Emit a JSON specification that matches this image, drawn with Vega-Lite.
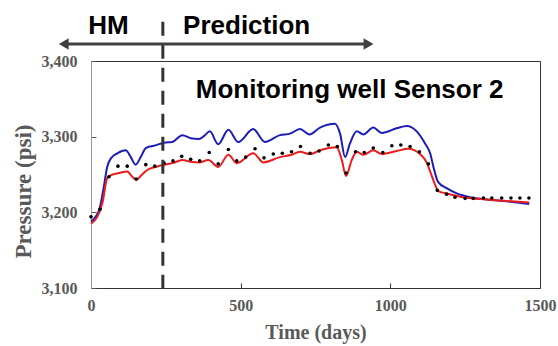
{
 "$schema": "https://vega.github.io/schema/vega-lite/v6.json",
 "width": 449,
 "height": 227,
 "autosize": {"type": "none"},
 "padding": {"left": 91, "top": 61, "right": 18, "bottom": 58},
 "background": "white",
 "config": {"view": {"stroke": "#333333", "strokeWidth": 1}, "axis": {"grid": false}},
 "datasets": {
  "blue": [
   {"day":0,"p":3188},{"day":27,"p":3203},{"day":43,"p":3234},{"day":54,"p":3260},{"day":66,"p":3271},{"day":88,"p":3278},{"day":116,"p":3282},{"day":133,"p":3273},{"day":149,"p":3263},{"day":166,"p":3273},{"day":183,"p":3285},{"day":210,"p":3288},{"day":244,"p":3292},{"day":272,"p":3293},{"day":305,"p":3302},{"day":333,"p":3298},{"day":361,"p":3297},{"day":378,"p":3301},{"day":397,"p":3307},{"day":425,"p":3290},{"day":459,"p":3309},{"day":492,"p":3293},{"day":542,"p":3310},{"day":581,"p":3293},{"day":631,"p":3302},{"day":665,"p":3304},{"day":698,"p":3310},{"day":730,"p":3303},{"day":765,"p":3312},{"day":815,"p":3317},{"day":832,"p":3304},{"day":849,"p":3273},{"day":865,"p":3291},{"day":888,"p":3307},{"day":910,"p":3303},{"day":943,"p":3312},{"day":971,"p":3305},{"day":1021,"p":3311},{"day":1055,"p":3314},{"day":1088,"p":3307},{"day":1116,"p":3291},{"day":1133,"p":3278},{"day":1144,"p":3260},{"day":1160,"p":3240},{"day":1188,"p":3232},{"day":1222,"p":3225},{"day":1266,"p":3220},{"day":1322,"p":3217},{"day":1389,"p":3214.5},{"day":1464,"p":3211}
  ],
  "red": [
   {"day":0,"p":3185},{"day":21,"p":3194},{"day":38,"p":3212},{"day":54,"p":3245},{"day":66,"p":3249},{"day":94,"p":3252},{"day":121,"p":3254},{"day":138,"p":3247},{"day":152,"p":3243},{"day":168,"p":3249},{"day":188,"p":3256},{"day":216,"p":3260},{"day":244,"p":3263},{"day":272,"p":3265},{"day":305,"p":3269},{"day":333,"p":3267},{"day":361,"p":3266},{"day":392,"p":3269},{"day":425,"p":3260},{"day":459,"p":3276},{"day":487,"p":3265},{"day":542,"p":3278},{"day":576,"p":3266},{"day":631,"p":3273},{"day":670,"p":3276},{"day":698,"p":3280},{"day":732,"p":3277},{"day":765,"p":3282},{"day":821,"p":3286},{"day":838,"p":3269},{"day":852,"p":3248},{"day":871,"p":3269},{"day":888,"p":3280},{"day":910,"p":3276},{"day":943,"p":3282},{"day":971,"p":3277},{"day":1021,"p":3281},{"day":1060,"p":3284},{"day":1099,"p":3277},{"day":1121,"p":3266},{"day":1135,"p":3252},{"day":1150,"p":3236},{"day":1160,"p":3228},{"day":1188,"p":3225},{"day":1244,"p":3220},{"day":1322,"p":3217},{"day":1389,"p":3215},{"day":1464,"p":3213}
  ],
  "obs": [
   {"day":0,"p":3194},{"day":30,"p":3204},{"day":60,"p":3247},{"day":90,"p":3261},{"day":121,"p":3261},{"day":151,"p":3244},{"day":183,"p":3263},{"day":213,"p":3261},{"day":244,"p":3265},{"day":274,"p":3268},{"day":303,"p":3274},{"day":333,"p":3270},{"day":363,"p":3268},{"day":395,"p":3279},{"day":425,"p":3264},{"day":459,"p":3283},{"day":487,"p":3268},{"day":517,"p":3273},{"day":548,"p":3284},{"day":578,"p":3272},{"day":609,"p":3277},{"day":639,"p":3278},{"day":670,"p":3280},{"day":700,"p":3287},{"day":732,"p":3278},{"day":762,"p":3281},{"day":793,"p":3289},{"day":823,"p":3287},{"day":852,"p":3252},{"day":884,"p":3280},{"day":913,"p":3279},{"day":943,"p":3285},{"day":975,"p":3279},{"day":1005,"p":3288},{"day":1035,"p":3289},{"day":1066,"p":3287},{"day":1097,"p":3280},{"day":1127,"p":3264},{"day":1157,"p":3229},{"day":1188,"p":3224},{"day":1216,"p":3220},{"day":1250,"p":3218.5},{"day":1277,"p":3218.5},{"day":1311,"p":3219},{"day":1339,"p":3219},{"day":1372,"p":3219},{"day":1403,"p":3219},{"day":1433,"p":3219},{"day":1463,"p":3219}
  ],
  "labels": [
   {"day":58,"p":3435.7,"text":"HM"},
   {"day":520,"p":3435.7,"text":"Prediction"},
   {"day":864,"p":3351,"text":"Monitoring well Sensor 2"}
  ]
 },
 "layer": [
  {
   "data": {"name": "blue"},
   "mark": {"type": "line", "color": "#1c1cb8", "strokeWidth": 2, "interpolate": "monotone"},
   "encoding": {
    "x": {"field": "day", "type": "quantitative", "scale": {"domain": [0, 1500], "nice": false},
     "axis": {"title": "Time (days)", "values": [0, 500, 1000, 1500], "format": "d", "labelFlush": false, "labelOverlap": false,
      "labelFont": "Liberation Serif", "labelFontWeight": "bold", "labelFontSize": 16, "labelColor": "#595959", "labelPadding": 14,
      "titleFont": "Liberation Serif", "titleFontWeight": "bold", "titleFontSize": 20, "titleColor": "#595959", "titleY": 44, "titleBaseline": "middle",
      "domainColor": "#333333", "tickColor": "#333333", "tickSize": -5}},
    "y": {"field": "p", "type": "quantitative", "scale": {"domain": [3100, 3400], "nice": false, "zero": false},
     "axis": {"title": "Pressure (psi)", "values": [3100, 3200, 3300, 3400], "format": ",d", "labelOverlap": false, "labelFlush": false,
      "labelFont": "Liberation Serif", "labelFontWeight": "bold", "labelFontSize": 16, "labelColor": "#595959", "labelPadding": 19,
      "titleFont": "Liberation Serif", "titleFontWeight": "bold", "titleFontSize": 23, "titleColor": "#595959",
      "titleX": -68, "titleY": 130, "titleAngle": -90, "titleAlign": "center", "titleBaseline": "middle",
      "domainColor": "#999999", "tickColor": "#555555", "tickSize": -5}}
   }
  },
  {
   "data": {"name": "red"},
   "mark": {"type": "line", "color": "#ec1c1c", "strokeWidth": 2, "interpolate": "monotone"},
   "encoding": {
    "x": {"field": "day", "type": "quantitative", "scale": {"domain": [0, 1500], "nice": false}},
    "y": {"field": "p", "type": "quantitative", "scale": {"domain": [3100, 3400], "nice": false, "zero": false}}
   }
  },
  {
   "data": {"name": "obs"},
   "mark": {"type": "circle", "color": "#000000", "size": 13, "opacity": 1},
   "encoding": {
    "x": {"field": "day", "type": "quantitative", "scale": {"domain": [0, 1500], "nice": false}},
    "y": {"field": "p", "type": "quantitative", "scale": {"domain": [3100, 3400], "nice": false, "zero": false}}
   }
  },
  {
   "data": {"values": [{}]},
   "mark": {"type": "rule", "color": "#333333", "strokeWidth": 3, "strokeDash": [14, 9]},
   "encoding": {
    "x": {"datum": 240, "type": "quantitative", "scale": {"domain": [0, 1500], "nice": false}},
    "y": {"datum": 3452, "type": "quantitative", "scale": {"domain": [3100, 3400], "nice": false, "zero": false}},
    "y2": {"datum": 3100}
   }
  },
  {
   "data": {"values": [{}]},
   "mark": {"type": "rule", "color": "#404040", "strokeWidth": 3},
   "encoding": {
    "x": {"datum": -91, "type": "quantitative", "scale": {"domain": [0, 1500], "nice": false}},
    "x2": {"datum": 927},
    "y": {"datum": 3422.5, "type": "quantitative", "scale": {"domain": [3100, 3400], "nice": false, "zero": false}}
   }
  },
  {
   "data": {"values": [{}]},
   "mark": {"type": "point", "shape": "triangle-left", "filled": true, "color": "#404040", "size": 130, "opacity": 1},
   "encoding": {
    "x": {"datum": -91, "type": "quantitative", "scale": {"domain": [0, 1500], "nice": false}},
    "y": {"datum": 3422.5, "type": "quantitative", "scale": {"domain": [3100, 3400], "nice": false, "zero": false}}
   }
  },
  {
   "data": {"values": [{}]},
   "mark": {"type": "point", "shape": "triangle-right", "filled": true, "color": "#404040", "size": 130, "opacity": 1},
   "encoding": {
    "x": {"datum": 927, "type": "quantitative", "scale": {"domain": [0, 1500], "nice": false}},
    "y": {"datum": 3422.5, "type": "quantitative", "scale": {"domain": [3100, 3400], "nice": false, "zero": false}}
   }
  },
  {
   "data": {"name": "labels"},
   "mark": {"type": "text", "font": "Liberation Sans", "fontWeight": "bold", "fontSize": 26, "color": "#000000", "align": "center", "baseline": "alphabetic"},
   "encoding": {
    "x": {"field": "day", "type": "quantitative", "scale": {"domain": [0, 1500], "nice": false}},
    "y": {"field": "p", "type": "quantitative", "scale": {"domain": [3100, 3400], "nice": false, "zero": false}},
    "text": {"field": "text"}
   }
  }
 ]
}
